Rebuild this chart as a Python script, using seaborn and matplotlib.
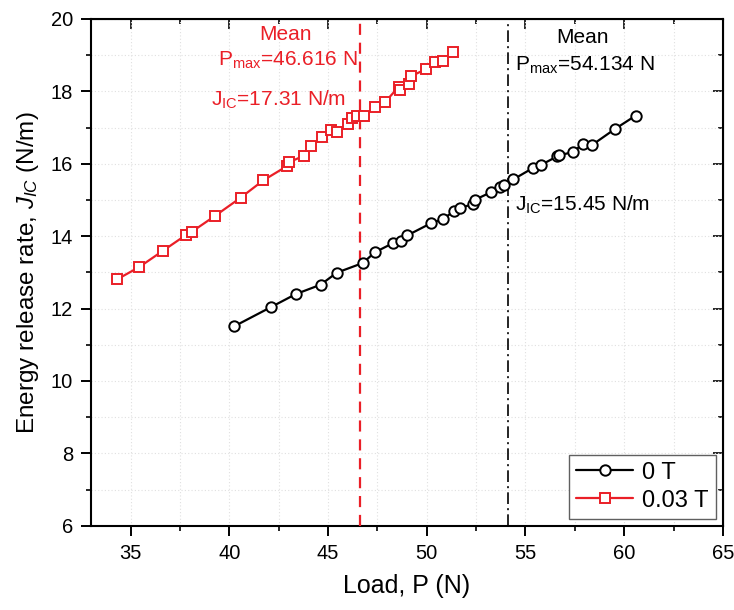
import numpy as np
import pandas as pd
import matplotlib
matplotlib.use("Agg")
import matplotlib.pyplot as plt
import seaborn as sns
from matplotlib.ticker import MultipleLocator

# ---- data ----
load_0T = [40.25, 42.11, 43.37, 44.63, 45.44, 46.77, 47.36, 48.30, 48.72, 49.01,
           50.19, 50.84, 51.38, 51.67, 52.34, 52.46, 53.24, 53.72, 53.89, 54.39,
           55.40, 55.76, 56.59, 56.72, 57.42, 57.89, 58.35, 59.53, 60.58]
j_0T = [11.51, 12.04, 12.40, 12.66, 12.99, 13.26, 13.55, 13.81, 13.88, 14.02,
        14.35, 14.48, 14.69, 14.78, 14.88, 15.01, 15.21, 15.37, 15.42, 15.57,
        15.89, 15.96, 16.20, 16.24, 16.32, 16.55, 16.51, 16.96, 17.33]

load_003T = [34.33, 35.45, 36.65, 37.83, 38.10, 39.28, 40.57, 41.72, 42.94, 43.03,
             43.77, 44.16, 44.72, 45.14, 45.44, 46.03, 46.23, 46.45, 46.84, 47.39,
             47.90, 48.59, 48.67, 49.09, 49.18, 49.98, 50.44, 50.83, 51.33]
j_003T = [12.81, 13.15, 13.60, 14.04, 14.12, 14.56, 15.06, 15.54, 15.94, 16.04,
          16.22, 16.48, 16.74, 16.94, 16.88, 17.10, 17.27, 17.33, 17.31, 17.57,
          17.71, 18.13, 18.03, 18.21, 18.41, 18.62, 18.81, 18.83, 19.09]

series_labels = ["0 T", "0.03 T"]
mean_pmax = [54.134, 46.616]
mean_jic = [15.45, 17.31]

x_ticks = [35, 40, 45, 50, 55, 60, 65]
y_ticks = [6, 8, 10, 12, 14, 16, 18, 20]

# ---- style ----
sns.set_style("ticks")
plt.rcParams["font.family"] = ["Liberation Sans", "DejaVu Sans"]
plt.rcParams["mathtext.fontset"] = "custom"
plt.rcParams["mathtext.rm"] = "Liberation Sans"
plt.rcParams["mathtext.it"] = "Liberation Sans:italic"
plt.rcParams["mathtext.bf"] = "Liberation Sans:bold"
plt.rcParams["text.color"] = "black"
plt.rcParams["axes.labelcolor"] = "black"

BLACK = "#000000"
RED = "#ea1f27"

fig = plt.figure(figsize=(7.34, 6.10), dpi=100)
ax = fig.add_axes([0.124, 0.138, 0.985 - 0.124, 0.969 - 0.138])

df0 = pd.DataFrame({"Load": load_0T, "J": j_0T})
df1 = pd.DataFrame({"Load": load_003T, "J": j_003T})

sns.lineplot(data=df0, x="Load", y="J", ax=ax, color=BLACK, lw=1.6,
             marker="o", markersize=7.5, markerfacecolor="white",
             markeredgecolor=BLACK, markeredgewidth=1.4, sort=False,
             label=series_labels[0], zorder=4)
sns.lineplot(data=df1, x="Load", y="J", ax=ax, color=RED, lw=1.6,
             marker="s", markersize=6.5, markerfacecolor="white",
             markeredgecolor=RED, markeredgewidth=1.4, sort=False,
             label=series_labels[1], zorder=4)

# mean lines
ax.axvline(mean_pmax[1], color=RED, ls=(0, (5, 3.5)), lw=1.6, zorder=3)
ax.axvline(mean_pmax[0], color=BLACK, ls=(0, (7, 2.5, 1.2, 2.5)), lw=1.2, zorder=3)

# annotations
fs = 15
ax.text(42.86, 19.41, "Mean", color=RED, fontsize=fs, ha="center", va="baseline")
ax.text(39.41, 18.72, r"P$_{\mathrm{max}}$=%.3f N" % mean_pmax[1], color=RED,
        fontsize=fs, ha="left", va="baseline")
ax.text(39.08, 17.60, r"J$_{\mathrm{IC}}$=%.2f N/m" % mean_jic[1], color=RED,
        fontsize=fs, ha="left", va="baseline")
ax.text(57.90, 19.33, "Mean", color=BLACK, fontsize=fs, ha="center", va="baseline")
ax.text(54.48, 18.58, r"P$_{\mathrm{max}}$=%.3f N" % mean_pmax[0], color=BLACK,
        fontsize=fs, ha="left", va="baseline")
ax.text(54.48, 14.71, r"J$_{\mathrm{IC}}$=%.2f N/m" % mean_jic[0], color=BLACK,
        fontsize=fs, ha="left", va="baseline")

# axes
ax.set_xlim(33, 65)
ax.set_ylim(6, 20)
ax.set_xticks(x_ticks)
ax.set_yticks(y_ticks)
ax.xaxis.set_minor_locator(MultipleLocator(2.5))
ax.yaxis.set_minor_locator(MultipleLocator(1))
ax.tick_params(which="major", direction="out", length=7, width=1.4,
               labelsize=14.5, colors="black", pad=6)
ax.tick_params(which="minor", direction="out", length=3.5, width=1.4)
for s in ax.spines.values():
    s.set_linewidth(1.5)
    s.set_color("black")
    s.set_visible(True)

ax.grid(which="both", color="#e0e0e0", ls=(0, (1, 2)), lw=0.8, zorder=0)
ax.set_axisbelow(True)

# mirrored inward ticks on top and right
secx = ax.secondary_xaxis("top")
secx.set_xticks(x_ticks)
secx.xaxis.set_minor_locator(MultipleLocator(2.5))
secx.tick_params(which="major", direction="in", length=7, width=1.4, labeltop=False)
secx.tick_params(which="minor", direction="in", length=3.5, width=1.4)
secy = ax.secondary_yaxis("right")
secy.set_yticks(y_ticks)
secy.yaxis.set_minor_locator(MultipleLocator(1))
secy.tick_params(which="major", direction="in", length=7, width=1.4, labelright=False)
secy.tick_params(which="minor", direction="in", length=3.5, width=1.4)

ax.set_xlabel("Load, P (N)", fontsize=18, labelpad=8)
ax.set_ylabel(r"Energy release rate, $J_{IC}$ (N/m)", fontsize=17.5, labelpad=7)

leg = ax.legend(loc="lower right", fontsize=17, frameon=True, fancybox=False,
                framealpha=1, edgecolor="#606060", handlelength=2.4,
                borderaxespad=0.3, borderpad=0.3, labelspacing=0.25,
                handletextpad=0.4)
leg.get_frame().set_linewidth(1.0)

fig.savefig("out.png", dpi=100)
